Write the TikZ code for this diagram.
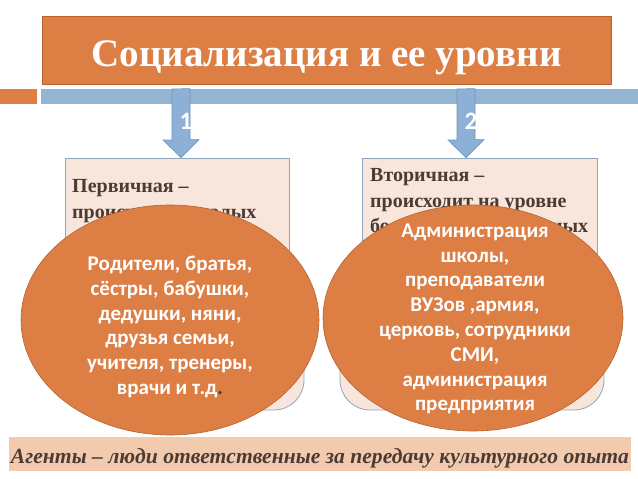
\documentclass[tikz,border=0pt]{standalone}
\usepackage{fontspec}
\setmainfont{Liberation Serif}
\newfontfamily\agentfont{Carlito}
\usepackage{tikz}
\usetikzlibrary{shapes.geometric, calc}

\definecolor{titleorange}{HTML}{DD7E45}
\definecolor{orangeline}{HTML}{B5622F}
\definecolor{barblue}{HTML}{94B4D4}
\definecolor{arrowblue}{HTML}{8DB1D6}
\definecolor{arrowline}{HTML}{6F93BA}
\definecolor{boxfill}{HTML}{F8E5DB}
\definecolor{boxline}{HTML}{8EA6C2}
\definecolor{textbrown}{HTML}{4B3B33}
\definecolor{bannerfill}{HTML}{F2CBAF}

\begin{document}
\begin{tikzpicture}[x=1pt,y=-1pt,
    levelbox/.style={rectangle,draw=boxline,fill=boxfill,line width=0.8pt},
    agent/.style={ellipse,draw=orangeline,fill=titleorange,line width=0.6pt},
    agenttext/.style={text=white,align=center,
        font=\agentfont\bfseries\fontsize{21}{24.8}\selectfont},
    leveltext/.style={text=textbrown,align=left,anchor=north west,inner sep=0pt,
        font=\bfseries\fontsize{20}{25.5}\selectfont}]
    \useasboundingbox (0,0) rectangle (638,479);

    % header
    \begin{scope}[every node/.style={rectangle,inner sep=0pt}]
        \node[fill=titleorange,draw=orangeline,minimum width=569pt,minimum height=68pt] (title) at (326.5,50) {};
        \node[text=white,anchor=base,font=\bfseries\fontsize{39}{39}\selectfont] (titletext) at (326.5,66) {Социализация и ее уровни};
        \node[fill=titleorange,minimum width=37pt,minimum height=15pt] (stub) at (18.5,96.5) {};
        \node[fill=barblue,minimum width=597pt,minimum height=15pt] (bar) at (339.5,96.5) {};
    \end{scope}

    % levels
    \node[levelbox,minimum width=224pt,minimum height=182pt] (lbox) at (177,249) {};
    \node[levelbox,minimum width=235pt,minimum height=182pt] (rbox) at (480,249) {};
    \node[leveltext] (ltext) at (72,179.5) {Первичная –\\происходит в малых};
    \node[leveltext] (rtext) at (370,168.5) {Вторичная –\\происходит на уровне\\\makebox[218pt][s]{больших социальных}};

    \foreach \ax/\num/\bx in {181/1/lbox,466/2/rbox}{
        \coordinate (tail\num) at (\ax,89);
        \draw[fill=arrowblue,draw=arrowline,line width=0.6pt] (tail\num) ++(-9,0) -- ++(0,51) -- ++(-9,0)
            -- (tail\num |- \bx.north) -- ++(18,-18) -- ++(-9,0) -- ++(0,-51) -- cycle;
        \node[text=white,font=\agentfont\bfseries\fontsize{25}{25}\selectfont] (num\num) at (\ax+5,121) {\num};
    }

    % agents
    \node[levelbox,rounded corners=30pt,minimum width=224pt,minimum height=110pt] (lback) at (192,355) {};
    \node[levelbox,rounded corners=30pt,minimum width=264pt,minimum height=110pt] (rback) at (472,355) {};
    \node[agent,minimum width=298pt,minimum height=230pt] (lagent) at (170,320) {};
    \node[agent,minimum width=300pt,minimum height=226pt] (ragent) at (473,318) {};
    \node[agenttext] (lagenttext) at (170,327) {Родители, братья,\\сёстры, бабушки,\\дедушки, няни,\\друзья семьи,\\учителя, тренеры,\\врачи и т.д{\color{textbrown}.}};
    \node[agenttext] (ragenttext) at (475,319) {Администрация\\школы,\\преподаватели\\ВУЗов ,армия,\\церковь, сотрудники\\СМИ,\\администрация\\предприятия};

    % footer
    \node[fill=bannerfill,minimum width=622pt,minimum height=34pt,inner sep=0pt] (banner) at (320,454) {};
    \node[anchor=base,text=textbrown,font=\bfseries\itshape\fontsize{21.6}{21.6}\selectfont] (bannertext) at (320,463) {Агенты – люди ответственные за передачу культурного опыта};
\end{tikzpicture}
\end{document}
